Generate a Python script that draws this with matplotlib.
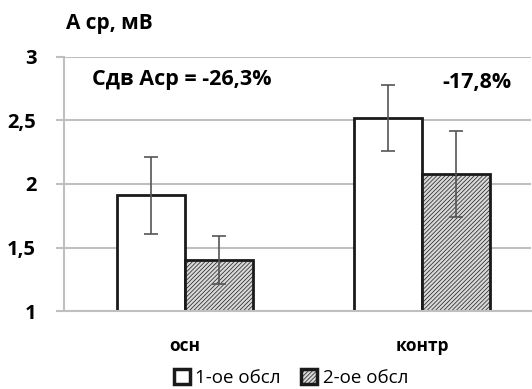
import matplotlib
matplotlib.use("Agg")
import matplotlib.pyplot as plt
import numpy as np

categories = ["осн", "контр"]
series_names = ["1-ое обсл", "2-ое обсл"]
values_1 = [1.91, 2.52]
errors_1 = [0.30, 0.26]
values_2 = [1.40, 2.08]
errors_2 = [0.19, 0.34]
yticks = [1, 1.5, 2, 2.5, 3]
ytick_labels = ["1", "1,5", "2", "2,5", "3"]

plt.rcParams['font.family'] = ['Open Sans', 'DejaVu Sans']
plt.rcParams['hatch.color'] = '#b0b0b0'
plt.rcParams['hatch.linewidth'] = 0.5

fig = plt.figure(figsize=(5.32, 3.89), dpi=100)
ax = fig.add_axes([0.1203, 0.2005, 0.878, 0.653])

x = np.arange(len(categories))
w = 0.288
grey = '#bfbfbf'

ax.set_axisbelow(True)
ax.grid(axis='y', color=grey, linewidth=1.5)
b1 = ax.bar(x - w/2, values_1, w, bottom=0, color='white', edgecolor='#1a1a1a',
            linewidth=2.0, yerr=errors_1, ecolor='#555555',
            error_kw=dict(elinewidth=1.2, capsize=5, capthick=1.2), label=series_names[0])
b2 = ax.bar(x + w/2, values_2, w, bottom=0, color='#d8d8d8', edgecolor='#1a1a1a',
            linewidth=2.0, hatch='////////', yerr=errors_2, ecolor='#555555',
            error_kw=dict(elinewidth=1.2, capsize=5, capthick=1.2), label=series_names[1])

ax.set_ylim(1, 3)
ax.set_xlim(-0.51, 1.46)
ax.set_yticks(yticks)
ax.set_yticklabels(ytick_labels, fontsize=14.5, fontweight='bold')
ax.set_xticks(x)
ax.set_xticklabels(categories, fontsize=12.5, fontweight='bold')
ax.tick_params(axis='y', length=6, color=grey, width=1.5, pad=14)
ax.tick_params(axis='x', length=0, pad=19)
for s in ['top', 'right']:
    ax.spines[s].set_visible(False)
for s in ['left', 'bottom']:
    ax.spines[s].set_color(grey)
    ax.spines[s].set_linewidth(1.5)

fig.text(0.124, 0.94, "А ср, мВ", fontsize=15, fontweight='bold', va='center', ha='left')
ax.text(-0.39, 2.82, "Сдв Аср = -26,3%", fontsize=15.5, fontweight='bold', va='center', ha='left')
ax.text(1.085, 2.80, "-17,8%", fontsize=15.5, fontweight='bold', va='center', ha='left')

leg = fig.legend(handles=[b1, b2], loc='center', bbox_to_anchor=(0.547, 0.028), ncol=2,
                 frameon=False, fontsize=13.5, handlelength=0.85, handleheight=0.8,
                 handletextpad=0.3, columnspacing=1.1, borderpad=0.1)
for p in leg.get_patches():
    p.set_linewidth(2.5)

fig.savefig("out.png", dpi=100)
